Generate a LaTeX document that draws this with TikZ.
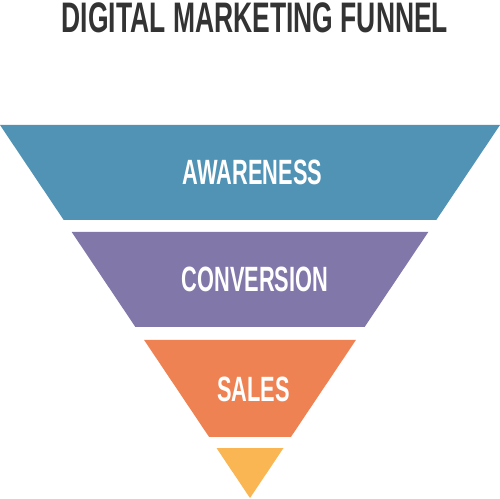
\documentclass[tikz,border=0pt]{standalone}
\usepackage{fontspec}
\setmainfont{Liberation Sans}[FakeStretch=0.62]
\usepackage{tikz}
\definecolor{awarecol}{HTML}{5193B4}
\definecolor{convcol}{HTML}{8277A9}
\definecolor{salescol}{HTML}{EF8253}
\definecolor{tipcol}{HTML}{F9B652}
\definecolor{titlecol}{HTML}{333333}
\tikzset{
  bandlabel/.style={text=white, font=\bfseries\fontsize{20}{24}\selectfont, inner sep=0pt},
  titlelabel/.style={text=titlecol, font=\bfseries\fontsize{24.3}{28}\selectfont, inner sep=0pt}
}

\begin{document}
\begin{tikzpicture}[x=0.02cm, y=-0.02cm]
	\useasboundingbox[fill=white] (0,0) rectangle (500,499);
	
	\node[titlelabel] (title) at (255,17.5) {DIGITAL MARKETING FUNNEL};
	
	% awareness
	\fill[awarecol] (0,125) -- (500,125) -- (436.3,220) -- (63.7,220) -- cycle;
	\node[bandlabel] (awareness) at (252.5,172.5) {AWARENESS};
	
	% conversion
	\fill[convcol] (71.7,232) -- (428.3,232) -- (364.6,327) -- (135.4,327) -- cycle;
	\node[bandlabel] (conversion) at (255,279.5) {CONVERSION};
	
	% sales
	\fill[salescol] (144.1,340) -- (355.9,340) -- (290.9,437) -- (209.1,437) -- cycle;
	\node[bandlabel] (sales) at (253.5,389.5) {SALES};
	
	% tip
	\fill[tipcol] (216.5,448) -- (283.5,448) -- (250,498) -- cycle;
\end{tikzpicture}
\end{document}
